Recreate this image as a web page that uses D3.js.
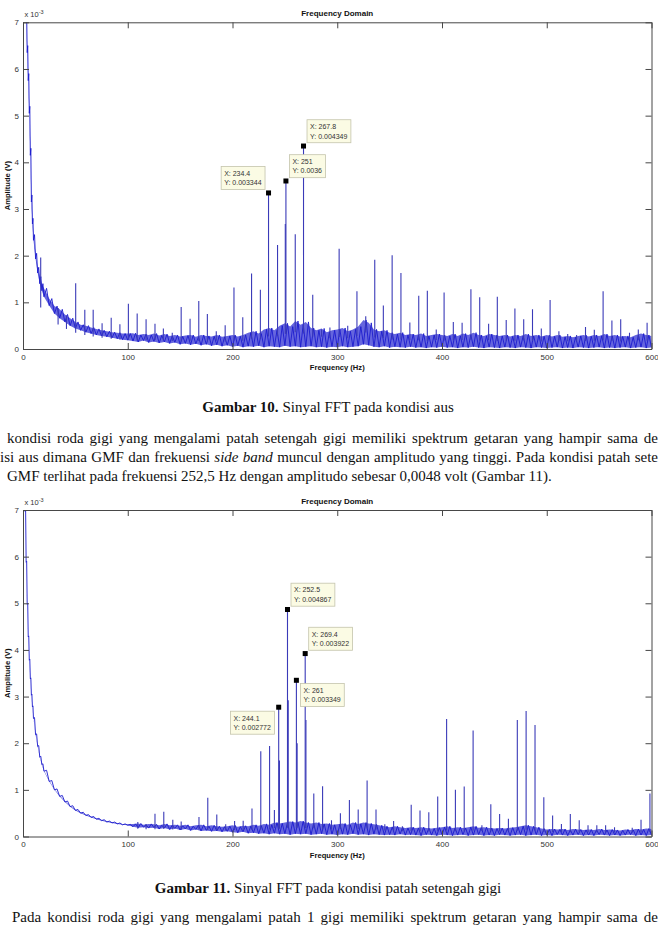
<!DOCTYPE html>
<html><head><meta charset="utf-8">
<script src="https://cdn.jsdelivr.net/npm/d3@7"></script>
<style>body{margin:0;background:#fff}svg{display:block}text{white-space:pre}</style>
</head><body><svg id="c" width="658" height="926"></svg>
<script>
// ---------------- DATA ----------------
const xTickValues = [0, 100, 200, 300, 400, 500, 600];
const yTickValues = [0, 1, 2, 3, 4, 5, 6, 7];
const chartTitle = "Frequency Domain";
const xLabel = "Frequency (Hz)";
const yLabel = "Amplitude (V)";

// frequency grid of the noise-floor envelope (Hz)
const bandFreq = [1,2,3,4,5,6,7,8,9,10,12,14,16,18,
 20,25,30,35,40,45,50,55,60,65, 70,75,80,85,90,95,100,105,110,115,
 120,125,130,135,140,145,150,155,160,165, 170,175,180,185,190,195,200,205,210,215,
 220,225,230,235,240,245,250,255,260,265, 270,275,280,285,290,295,300,305,310,315,
 320,325,330,335,340,345,350,355,360,365, 370,375,380,385,390,395,400,405,410,415,
 420,425,430,435,440,445,450,455,460,465, 470,475,480,485,490,495,500,505,510,515,
 520,525,530,535,540,545,550,555,560,565, 570,575,580,585,590,595,600];

// Chart 1 (Gambar 10) envelope, x 1e-3 V
const band1Hi = [9.5,8.5,7.2,6.5,5.9,5.2,4.3,3.3,2.8,2.45,2.05,1.75,1.55,1.4,
 1.3,1.08,0.92,0.85,0.74,0.66,0.58,0.52,0.5,0.46, 0.43,0.4,0.38,0.36,0.35,0.33,0.33,0.34,0.3,0.32,
 0.3,0.33,0.29,0.32,0.28,0.3,0.27,0.29,0.3,0.26, 0.3,0.28,0.27,0.3,0.26,0.28,0.3,0.27,0.3,0.35,
 0.38,0.33,0.42,0.45,0.4,0.5,0.55,0.48,0.6,0.52, 0.58,0.45,0.4,0.44,0.36,0.4,0.42,0.45,0.38,0.42,
 0.48,0.62,0.56,0.42,0.38,0.4,0.35,0.32,0.35,0.3, 0.32,0.3,0.33,0.28,0.3,0.32,0.3,0.28,0.32,0.28,
 0.33,0.3,0.35,0.3,0.28,0.32,0.3,0.28,0.3,0.27, 0.3,0.28,0.32,0.28,0.3,0.27,0.3,0.27,0.3,0.26,
 0.28,0.25,0.28,0.3,0.27,0.3,0.28,0.32,0.28,0.3, 0.27,0.28,0.25,0.3,0.33,0.3,0.28];
const band1Lo = [9.3,8.3,7.05,6.35,5.75,5.05,4.15,3.15,2.68,2.33,1.93,1.63,1.4,1.25,
 1.12,0.93,0.76,0.66,0.58,0.5,0.44,0.4,0.36,0.33, 0.3,0.28,0.26,0.24,0.22,0.2,0.19,0.17,0.15,0.18,
 0.14,0.16,0.13,0.15,0.12,0.14,0.1,0.12,0.09,0.11, 0.08,0.1,0.07,0.09,0.06,0.08,0.05,0.07,0.04,0.06,
 0.05,0.07,0.04,0.06,0.05,0.04,0.07,0.05,0.06,0.04, 0.05,0.06,0.04,0.05,0.03,0.05,0.04,0.06,0.04,0.05,
 0.06,0.1,0.08,0.05,0.04,0.06,0.03,0.05,0.04,0.03, 0.05,0.03,0.04,0.02,0.04,0.03,0.05,0.03,0.04,0.02,
 0.04,0.03,0.05,0.03,0.02,0.04,0.03,0.02,0.04,0.03, 0.02,0.04,0.03,0.02,0.04,0.03,0.02,0.03,0.04,0.02,
 0.03,0.02,0.04,0.03,0.02,0.03,0.04,0.02,0.03,0.02, 0.03,0.04,0.02,0.03,0.04,0.02,0.03];
const peak1Freq = [16.9,33.5,41.5,50.3,59,67,75.5,84.2,92.5,100.6,109,117.5,126,134,142.5,151,159.5,167.8,176,184.5,
 193,201.4,209.8,218.2,226.6,234.4,243,250.4,251,259.9,267.8,276.6,285,293,301.8,310,318.8,327.2,335.8,344,
 352.4,360.8,369.3,377.8,386,394.5,402,410.8,419.2,427.6,436,444.5,452.8,461.3,469.6,478,486.4,494.8,503.2,511.6,
 520,528.5,537,545.4,553.8,562.2,570.6,579,587.4,595.8];
const peak1Amp = [1.96,0.88,0.72,1.41,0.84,0.84,0.55,0.67,0.53,0.97,0.76,0.64,0.54,0.44,0.35,0.9,0.65,1.03,0.75,0.38,
 0.51,1.32,0.68,1.62,1.27,3.344,2.23,2.68,3.6,2.46,4.349,1.16,0.42,0.46,2.15,0.5,1.24,0.7,1.91,0.93,
 2.01,1.63,0.57,1.14,1.25,0.42,1.21,0.58,0.56,1.28,1.11,0.54,1.12,0.62,0.87,0.64,0.85,0.44,1.05,0.38,
 0.32,0.3,0.47,0.41,1.24,0.61,0.64,0.35,0.42,0.56];
const tip1X = [234.4, 251, 267.8];
const tip1Y = [0.003344, 0.0036, 0.004349];

// Chart 2 (Gambar 11) envelope, x 1e-3 V
const band2Hi = [8.2,7.0,5.9,5.0,4.3,3.8,3.4,3.05,2.8,2.55,2.2,1.95,1.72,1.56,
 1.42,1.2,1.02,0.88,0.76,0.66,0.58,0.52,0.47,0.43, 0.39,0.36,0.33,0.31,0.29,0.27,0.26,0.27,0.28,0.25,
 0.27,0.26,0.24,0.27,0.24,0.25,0.23,0.25,0.22,0.24, 0.25,0.22,0.24,0.22,0.21,0.22,0.24,0.21,0.23,0.22,
 0.25,0.23,0.27,0.25,0.3,0.28,0.3,0.32,0.3,0.33, 0.3,0.28,0.3,0.27,0.28,0.25,0.26,0.28,0.25,0.3,
 0.27,0.3,0.28,0.26,0.24,0.22,0.2,0.22,0.2,0.18, 0.2,0.18,0.2,0.18,0.17,0.19,0.2,0.22,0.18,0.2,
 0.18,0.2,0.22,0.19,0.2,0.18,0.17,0.18,0.17,0.19, 0.2,0.22,0.24,0.22,0.2,0.17,0.15,0.16,0.15,0.16,
 0.14,0.16,0.15,0.14,0.15,0.14,0.16,0.14,0.15,0.14, 0.13,0.15,0.14,0.16,0.15,0.17,0.16];
const band2Lo = [8.17,6.97,5.88,4.98,4.28,3.78,3.38,3.03,2.78,2.53,2.18,1.93,1.7,1.54,
 1.4,1.18,1.0,0.86,0.74,0.64,0.56,0.5,0.45,0.41, 0.37,0.34,0.31,0.29,0.27,0.25,0.24,0.21,0.19,0.2,
 0.18,0.19,0.16,0.18,0.15,0.17,0.14,0.16,0.13,0.15, 0.12,0.13,0.11,0.12,0.1,0.11,0.09,0.08,0.1,0.07,
 0.08,0.06,0.07,0.05,0.07,0.05,0.06,0.04,0.06,0.05, 0.06,0.04,0.05,0.06,0.04,0.05,0.03,0.05,0.04,0.06,
 0.04,0.05,0.03,0.05,0.04,0.03,0.04,0.03,0.05,0.03, 0.04,0.03,0.02,0.04,0.03,0.02,0.04,0.03,0.02,0.03,
 0.04,0.02,0.03,0.04,0.02,0.03,0.02,0.04,0.03,0.02, 0.03,0.04,0.02,0.03,0.04,0.02,0.03,0.02,0.04,0.03,
 0.02,0.03,0.04,0.02,0.03,0.02,0.04,0.03,0.02,0.03, 0.02,0.03,0.04,0.02,0.03,0.02,0.03];
const peak2Freq = [109.6,117.5,126,134.4,143,151,168,176.4,185,193.5,202,210.2,218.6,227,235.4,240,244.1,244.8,252.5,253.2,
 261,261.7,269.4,270.1,277.6,286,294.5,303,311.6,320,328.5,337,345.4,353.8,362.2,370.6,379,387.4,395.9,404.4,
 412.8,421.2,429.7,438.1,446.6,455,463.4,471.9,480.3,488.8,497.2,505.6,514,522.5,531,539.4,547.8,556.2,564.7,581.6,
 590,598.5];
const peak2Amp = [0.31,0.27,0.49,0.53,0.36,0.32,0.42,0.83,0.47,0.26,0.33,0.34,0.6,1.83,1.94,0.57,2.772,1.63,4.867,2.92,
 3.349,2.0,3.922,2.5,0.92,1.08,0.35,0.5,0.78,0.58,1.2,0.58,0.26,0.33,0.22,0.68,0.56,0.52,0.86,2.52,
 1.0,1.07,2.27,0.24,0.69,0.48,0.38,2.5,2.69,2.39,0.84,0.45,0.27,0.48,0.35,0.24,0.24,0.24,0.2,0.19,
 0.36,0.92];
const tip2X = [252.5, 269.4, 261, 244.1];
const tip2Y = [0.004867, 0.003922, 0.003349, 0.002772];

// Text of the page
const caption10 = [{t:"Gambar 10.", b:true}, {t:" Sinyal FFT pada kondisi aus"}];
const caption11 = [{t:"Gambar 11.", b:true}, {t:" Sinyal FFT pada kondisi patah setengah gigi"}];
const paraLines = [
  [{t:"kondisi roda gigi yang mengalami patah setengah gigi memiliki spektrum getaran yang hampir sama de"}],
  [{t:"isi aus dimana GMF dan frekuensi "}, {t:"side band", i:true}, {t:" muncul dengan amplitudo yang tinggi. Pada kondisi patah sete"}],
  [{t:"GMF terlihat pada frekuensi 252,5 Hz dengan amplitudo sebesar 0,0048 volt (Gambar 11)."}]
];
const lastLine = [{t:"Pada kondisi roda gigi yang mengalami patah 1 gigi memiliki spektrum getaran yang hampir sama de"}];

// ---------------- DRAWING ----------------
const W = 658, H = 926;
const svg = d3.select('#c');
svg.append('rect').attr('width', W).attr('height', H).attr('fill', '#fff');
const SANS = "'Liberation Sans', Arial, sans-serif";
const SERIF = "'Liberation Serif', 'Times New Roman', serif";
const BAND = '#1c1cce', SPIKE = '#3a3ab8', AXIS = '#474747', LABEL = '#333';

function drawChart(cfg) {
  const {top, bottom, hi, lo, pf, pa, tx, ty, place, id} = cfg;
  const left = 23, right = 651.5;
  const x = d3.scaleLinear().domain([0, 600]).range([left, right]);
  const y = d3.scaleLinear().domain([0, 7]).range([bottom, top]);
  const g = svg.append('g');

  g.append('clipPath').attr('id', id).append('rect')
    .attr('x', left).attr('y', top).attr('width', right - left).attr('height', bottom - top);
  const plot = g.append('g').attr('clip-path', `url(#${id})`);

  // envelope of the dense noise trace (fill) ...
  const area = d3.area()
    .x((d, i) => x(bandFreq[i]))
    .y0((d, i) => y(lo[i]))
    .y1((d, i) => y(hi[i]));
  plot.append('path').datum(hi).attr('d', area)
    .attr('fill', BAND).attr('fill-opacity', 0.68).attr('stroke', 'none');
  // ... and the trace itself, zig-zagging between low and high values
  const pts = [];
  bandFreq.forEach((f, i) => {
    const px = x(f);
    const nx = i < bandFreq.length - 1 ? x(bandFreq[i + 1]) : px + 2;
    pts.push([px, y(lo[i])]);
    pts.push([px + (nx - px) / 2, y(hi[i])]);
  });
  plot.append('path').attr('d', d3.line()(pts))
    .attr('fill', 'none').attr('stroke', BAND).attr('stroke-width', 0.9).attr('stroke-linejoin', 'round');

  const baseAt = d3.scaleLinear().domain(bandFreq).range(hi);
  plot.selectAll('line.pk').data(pf).join('line').attr('class', 'pk')
    .attr('x1', d => x(d)).attr('x2', d => x(d))
    .attr('y1', d => y(baseAt(d) * 0.6)).attr('y2', (d, i) => y(pa[i]))
    .attr('stroke', SPIKE).attr('stroke-width', 1.1);

  // axes (ticks inward on all four sides)
  const styleAxis = sel => {
    sel.select('.domain').attr('stroke', AXIS).attr('stroke-width', 1);
    sel.selectAll('.tick line').attr('stroke', AXIS).attr('stroke-width', 1);
    sel.selectAll('.tick text').attr('fill', LABEL).attr('font-family', SANS).attr('font-size', 8);
  };
  g.append('g').attr('transform', `translate(0,${bottom})`)
    .call(d3.axisBottom(x).tickValues(xTickValues).tickSize(-6).tickSizeOuter(0).tickPadding(5).tickFormat(d3.format('d'))).call(styleAxis);
  g.append('g').attr('transform', `translate(0,${top})`)
    .call(d3.axisTop(x).tickValues(xTickValues).tickSize(-6).tickSizeOuter(0).tickFormat('')).call(styleAxis);
  g.append('g').attr('transform', `translate(${left},0)`)
    .call(d3.axisLeft(y).tickValues(yTickValues).tickSize(-6).tickSizeOuter(0).tickPadding(4).tickFormat(d3.format('d'))).call(styleAxis);
  g.append('g').attr('transform', `translate(${right},0)`)
    .call(d3.axisRight(y).tickValues(yTickValues).tickSize(-6).tickSizeOuter(0).tickFormat('')).call(styleAxis);
  g.selectAll('.domain').attr('fill', 'none');

  // exponent label
  const ex = g.append('text').attr('x', left + 1.5).attr('y', top - 5).attr('font-family', SANS)
    .attr('font-size', 7.5).attr('fill', LABEL);
  ex.append('tspan').text('x 10');
  ex.append('tspan').text('-3').attr('font-size', 5.5).attr('dy', -3.5);

  // title, labels
  g.append('text').attr('x', (left + right) / 2).attr('y', top - 6).attr('text-anchor', 'middle')
    .attr('font-family', SANS).attr('font-weight', 'bold').attr('font-size', 8).attr('fill', '#111').text(chartTitle);
  g.append('text').attr('x', (left + right) / 2).attr('y', bottom + 21).attr('text-anchor', 'middle')
    .attr('font-family', SANS).attr('font-weight', 'bold').attr('font-size', 7.6).attr('fill', '#111').text(xLabel);
  g.append('text').attr('transform', `translate(9.5,${(top + bottom) / 2}) rotate(-90)`).attr('text-anchor', 'middle')
    .attr('font-family', SANS).attr('font-weight', 'bold').attr('font-size', 7.6).attr('fill', '#111').text(yLabel);

  // data tips
  tx.forEach((fx, i) => {
    const mx = x(fx), my = y(ty[i] * 1000);
    const tg = g.append('g');
    const t1 = tg.append('text').attr('font-family', SANS).attr('font-size', 7).attr('fill', '#333').text('X: ' + String(fx));
    const t2 = tg.append('text').attr('font-family', SANS).attr('font-size', 7).attr('fill', '#333').text('Y: ' + String(ty[i]));
    const tw = Math.max(t1.node().getComputedTextLength(), t2.node().getComputedTextLength());
    const bw = tw + 6.5, bh = 23;
    const p = place[i];
    let bx, by;
    if (p === 'ur') { bx = mx + 3.5; by = my - 3.3 - bh; }
    else if (p === 'ul') { bx = mx - 3.5 - bw; by = my - 3.5 - bh; }
    else if (p === 'lr') { bx = mx + 4; by = my + 3.2; }
    else { bx = mx - 4.3 - bw; by = my + 4; }
    tg.insert('rect', 'text').attr('x', bx).attr('y', by).attr('width', bw).attr('height', bh)
      .attr('fill', '#fbfbe4').attr('stroke', '#c4c4ac').attr('stroke-width', 0.8);
    t1.attr('x', bx + 3).attr('y', by + 9.3);
    t2.attr('x', bx + 3).attr('y', by + 18.8);
    tg.append('rect').attr('x', mx - 2.5).attr('y', my - 2.5).attr('width', 5).attr('height', 5).attr('fill', '#000');
  });
}

drawChart({top: 22.3, bottom: 349, hi: band1Hi, lo: band1Lo, pf: peak1Freq, pa: peak1Amp,
  tx: tip1X, ty: tip1Y, place: ['ul', 'ur', 'ur'], id: 'clip1'});
drawChart({top: 510, bottom: 836.5, hi: band2Hi, lo: band2Lo, pf: peak2Freq, pa: peak2Amp,
  tx: tip2X, ty: tip2Y, place: ['ur', 'ur', 'lr', 'll'], id: 'clip2'});

// page text
function addLine(parts, x0, yb, x1, anchor) {
  const t = svg.append('text').attr('x', x0).attr('y', yb).attr('font-family', SERIF)
    .attr('font-size', 15).attr('fill', '#111');
  if (anchor) t.attr('text-anchor', anchor);
  parts.forEach(p => {
    const s = t.append('tspan').text(p.t);
    if (p.i) s.attr('font-style', 'italic');
    if (p.b) s.attr('font-weight', 'bold');
  });
  if (x1 != null) {
    const w = t.node().getComputedTextLength();
    const n = (t.text().match(/ /g) || []).length;
    t.attr('word-spacing', (x1 - x0 - w) / n);
  }
  return t;
}
addLine(caption10, 328, 412, null, 'middle');
addLine(paraLines[0], 7, 443, 658);
addLine(paraLines[1], 0, 462, 658);
addLine(paraLines[2], 7, 481);
addLine(caption11, 328, 893, null, 'middle');
addLine(lastLine, 12, 922, 658);
</script></body></html>
